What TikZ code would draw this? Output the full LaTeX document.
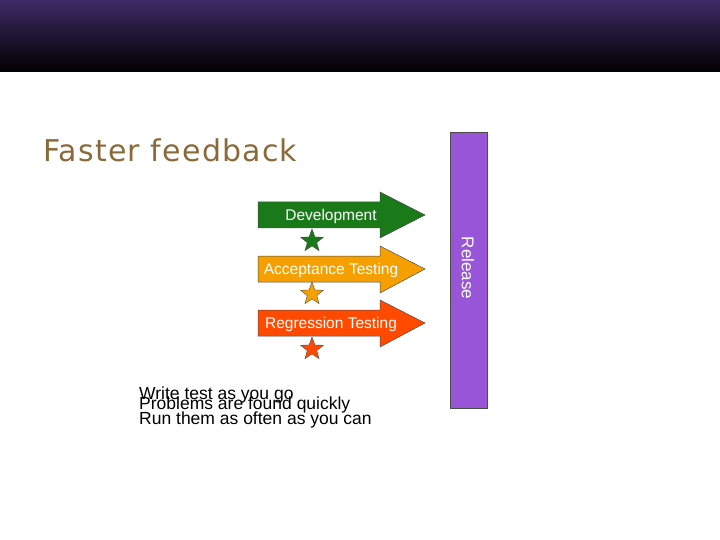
\documentclass[tikz,border=0pt]{standalone}
\usepackage{fontspec}
\setmainfont{Liberation Sans}
\newfontfamily\ttlfont[LetterSpace=4]{DejaVu Sans}
\usetikzlibrary{shapes.geometric}
\definecolor{dgreen}{HTML}{1A7A1A}
\definecolor{aorange}{HTML}{F5A000}
\definecolor{rred}{HTML}{FF4A00}
\definecolor{rel}{HTML}{9955D8}
\definecolor{ttl}{HTML}{8B6A3A}
\tikzset{
  arr/.style={draw=black!70, line width=0.5pt},
  lbl/.style={text=white, font=\fontsize{15.5}{15.5}\selectfont, inner sep=0pt},
  st/.style={star, star points=5, star point ratio=2.4, minimum size=24pt, inner sep=0pt, draw=black!70, line width=0.4pt},
  body/.style={font=\fontsize{17.5}{17.5}\selectfont, anchor=west, inner sep=0pt}
}
\begin{document}
\begin{tikzpicture}[x=1pt,y=-1pt]
\useasboundingbox (0,0) rectangle (720,540);
\fill[white] (0,0) rectangle (720,540);
\shade[top color={rgb,255:red,62;green,42;blue,100}, bottom color=black] (0,0) rectangle (720,72);
\node[text=ttl, font=\ttlfont\fontsize{30}{30}\selectfont, anchor=west, inner sep=0pt] (title) at (43,150) {Faster feedback};
\draw[fill=rel, draw=black!70] (450,132) rectangle (487,408);
\node[rotate=-90, text=white, font=\fontsize{17}{17}\selectfont, inner sep=0pt] (rel) at (468,268) {Release};
\draw[arr, fill=dgreen] (258,202) -- (380,202) -- (380,192) -- (425,215) -- (380,238) -- (380,228) -- (258,228) -- cycle;
\node[lbl] (dev) at (331,216) {Development};
\draw[arr, fill=aorange] (258,256) -- (380,256) -- (380,246) -- (425,269) -- (380,293) -- (380,282) -- (258,282) -- cycle;
\node[lbl] (acc) at (331,270) {Acceptance Testing};
\draw[arr, fill=rred] (258,310) -- (380,310) -- (380,300) -- (425,323) -- (380,347) -- (380,336) -- (258,336) -- cycle;
\node[lbl] (reg) at (331,324) {Regression Testing};
\node[st, fill=dgreen] (s1) at (312,241) {};
\node[st, fill=aorange] (s2) at (312,294) {};
\node[st, fill=rred] (s3) at (312,349) {};
\node[body] (t1) at (139,395) {Write test as you go};
\node[body] (t2) at (139,405) {Problems are found quickly};
\node[body] (t3) at (139,420) {Run them as often as you can};
\end{tikzpicture}
\end{document}
